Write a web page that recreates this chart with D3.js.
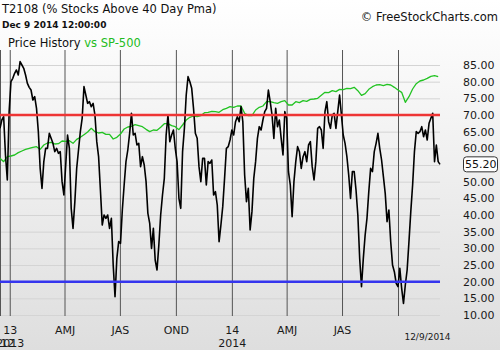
<!DOCTYPE html>
<html><head><meta charset="utf-8">
<script src="https://cdn.jsdelivr.net/npm/d3@7"></script>
<style>
html,body{margin:0;padding:0;overflow:hidden;background:#fff;}
svg{display:block;font-family:"DejaVu Sans",Verdana,sans-serif;}
</style>
</head><body><svg id="c" width="500" height="350"></svg>
<script>
// ---------- data ----------
const titleText = "T2108 (% Stocks Above 40 Day Pma)";
const stampText = "Dec 9 2014 12:00:00";
const legendMain = "Price History ";
const legendComp = "vs SP-500";
const copyright = "\u00A9 FreeStockCharts.com";
const startDate = new Date(2012, 11, 16);
const endDate = new Date(2014, 11, 9);
const endLabel = "12/9/2014";

const t2108StepDays = 3;
const t2108 = [
66,68.5,69.5,58,50.5,71,80,81,82.5,83.5,
82,86,85,84,82,79.5,78.3,77.5,74.5,75.5,
72,65,54,48,56,60,60,64.5,63,61.5,
59,60,58.5,59,50,46,55,64,60,42,
36,44,54,59.5,65,69,78.5,76,73.5,74,
72.5,73.5,70,62,57.5,47.5,37,40,39,40,
36,39,25,15.5,27,32,31.5,41.5,49,56,
59.5,64.5,70.5,64,64.5,61,61.5,54.5,57.5,55,
50,40.5,37.5,30,36,26.5,23.5,31,40,46,
51,64,70,62,64,65.5,60,56,45,42,
59,66,76,81.5,80,78,72,64.5,63,54.5,
50,57,57,49,56,55.5,56.5,46,47,43,
32,37,42.5,51,60,60.5,62.5,65.5,64,68,
69.5,68,72.5,68,52,44,48,35.5,41,51,
56,63,66.5,65.5,68.5,71,72,77.5,74,70,
63,72,66.5,68.5,63,58,71,69,53,49,
39.5,50,56,60.5,59,54,57.5,59,56,61,
62,54.5,50.5,56,66,66.5,65.5,60,71,74,
68,66,70,70.5,66,71,76,70,64,61.5,
57.5,52,45,53,53,47.5,40,27,18.5,27,
34,39,47,54,53,59,61.5,64.5,60,56.5,
51.5,46.5,38,41.5,32,25,23,19.5,18.5,24,
18,13.5,19,23.5,32,41,49,59,65,64.5,
65,66.5,63.5,65.5,62.5,67.5,69,70.5,56,61,
56,55.2
];

// SP-500 comparison line, expressed in the chart's own axis units
const sp500StepDays = 6;
const sp500 = [
57,56,57.5,57.7,58,58.7,59.2,59.7,60,60.3,
60.5,59.7,61,61.6,61.8,61.3,61.4,62.2,62.1,62.3,
61.5,62.7,63.3,64.1,64.9,66,65,64.6,64.8,64.2,
64.2,62.8,63.3,64.3,65.8,66.4,66.6,67.1,66.8,66.5,
65.7,65,65.5,65.4,66.3,67.4,67.4,66.8,66.5,65.6,
67,68.5,69.3,69.7,69.5,69.8,70.7,70.8,71.1,71,
70.8,71.6,72,72.5,72.3,72.7,72.7,70.5,69.8,69.8,
71.5,72.3,72.7,74,74,73.7,73.5,74,74.3,73,
73,74,73.7,74.3,74.1,74.7,74.8,75,75.9,76.8,
76.7,77.3,77,77.7,77.6,78,77.9,78.3,77.3,75.9,
76.4,77.7,78.5,79,79.1,78.8,79.2,79,78.3,77.5,
76.8,73.8,75.5,77.8,79.4,80.2,80.5,81,81.6,81.8,
81.5
];

const yTicks = [10,15,20,25,30,35,40,45,50,55,60,65,70,75,80,85];
const upperLevel = 70;
const lowerLevel = 20;
const lastValue = 55.20;

const quarterDates = ["2013-01-01","2013-04-01","2013-07-01","2013-10-01","2014-01-01","2014-04-01","2014-07-01","2014-10-01"];
const quarterLabels = ["13","AMJ","JAS","OND","14","AMJ","JAS",""];
const yearDates = ["2012-12-16","2013-01-01","2014-01-01"];
const yearLabels = ["2012","2013","2014"];

// ---------- drawing ----------
const parse = d3.timeParse("%Y-%m-%d");
const svg = d3.select("#c");
const W = 500, H = 350;
const plot = {left: 0, right: 440, top: 50, bottom: 316};

const defs = svg.append("defs");
const grad = defs.append("linearGradient").attr("id","bg").attr("x1",0).attr("y1",0).attr("x2",0).attr("y2",1);
grad.append("stop").attr("offset","0%").attr("stop-color","#ffffff");
grad.append("stop").attr("offset","100%").attr("stop-color","#dedede");
svg.append("rect").attr("width",W).attr("height",H).attr("fill","url(#bg)");

const x = d3.scaleTime().domain([startDate, endDate]).range([plot.left, plot.right]);
const y = d3.scaleLinear().domain([10, 85]).range([315, 65]);

// horizontal grid
svg.append("g")
  .call(d3.axisRight(y).tickValues(yTicks).tickSize(plot.right).tickFormat(""))
  .call(g => g.select(".domain").remove())
  .call(g => g.selectAll("line").attr("stroke","#d4d4d4"));

// vertical grid
svg.append("g").attr("transform",`translate(0,${plot.bottom})`)
  .call(d3.axisBottom(x).tickValues(quarterDates.map(parse)).tickSize(-(plot.bottom-plot.top)).tickFormat(""))
  .call(g => g.select(".domain").remove())
  .call(g => g.selectAll("line").attr("stroke","#555").attr("stroke-width",1));
svg.append("line").attr("x1",0.5).attr("x2",0.5).attr("y1",plot.top).attr("y2",plot.bottom).attr("stroke","#555");

// series
const dateAt = (step) => (d,i) => d3.timeDay.offset(startDate, i*step);
const spLine = d3.line().x((d,i)=>x(dateAt(sp500StepDays)(d,i))).y(d=>y(d));
const tLine = d3.line().x((d,i)=>x(dateAt(t2108StepDays)(d,i))).y(d=>y(d));

svg.append("path").datum(sp500).attr("d",spLine).attr("fill","none")
  .attr("stroke","#22c322").attr("stroke-width",1.3).attr("stroke-linejoin","round");
svg.append("path").datum(t2108).attr("d",tLine).attr("fill","none")
  .attr("stroke","#000").attr("stroke-width",1.6).attr("stroke-linejoin","round");

// reference levels
[[upperLevel,"#ee3535"],[lowerLevel,"#3535ee"]].forEach(([v,c]) => {
  svg.append("line").attr("x1",plot.left).attr("x2",plot.right)
    .attr("y1",y(v)).attr("y2",y(v)).attr("stroke",c).attr("stroke-width",2.5);
});

// y axis labels (the tick hidden by the last-value box is skipped)
const labelTicks = yTicks.filter(v => Math.abs(y(v) - y(lastValue)) > 9);
svg.append("g").attr("transform","translate(463,0)")
  .call(d3.axisRight(y).tickValues(labelTicks).tickSize(0).tickPadding(0).tickFormat(d3.format(".2f")))
  .call(g => g.select(".domain").remove())
  .call(g => g.selectAll("text").attr("font-size",11).attr("fill","#1a1a1a").attr("font-family","DejaVu Sans, Verdana, sans-serif"));

// last value box
const lv = svg.append("g").attr("transform",`translate(0,${y(lastValue)})`);
lv.append("rect").attr("x",463.5).attr("y",-7.5).attr("width",34).attr("height",15).attr("rx",3)
  .attr("fill","#fff").attr("stroke","#333");
lv.append("text").attr("x",465).attr("y",4).attr("font-size",11).attr("fill","#111").text(d3.format(".2f")(lastValue));

// x axis labels
svg.append("g").attr("transform","translate(0,326)")
  .call(d3.axisBottom(x).tickValues(quarterDates.map(parse)).tickSize(0).tickPadding(0).tickFormat((d,i)=>quarterLabels[i]))
  .call(g => g.select(".domain").remove())
  .call(g => g.selectAll("text").attr("font-size",11).attr("fill","#1a1a1a").attr("font-family","DejaVu Sans, Verdana, sans-serif"));
svg.append("g").attr("transform","translate(0,339)")
  .call(d3.axisBottom(x).tickValues(yearDates.map(parse)).tickSize(0).tickPadding(0).tickFormat((d,i)=>yearLabels[i]))
  .call(g => g.select(".domain").remove())
  .call(g => g.selectAll("text").attr("font-size",11).attr("fill","#1a1a1a").attr("font-family","DejaVu Sans, Verdana, sans-serif"));
svg.append("text").attr("x",x(endDate)-12.5).attr("y",340).attr("text-anchor","middle")
  .attr("font-size",9).attr("fill","#1a1a1a").text(endLabel);

// header texts
svg.append("text").attr("x",2).attr("y",13).attr("font-size",11.5).attr("fill","#111").text(titleText);
svg.append("text").attr("x",2).attr("y",28).attr("font-size",9).attr("font-weight","bold").attr("fill","#111").text(stampText);
const lg = svg.append("text").attr("x",8).attr("y",47).attr("font-size",11.5);
lg.append("tspan").attr("fill","#111").text(legendMain);
lg.append("tspan").attr("fill","#22bb22").text(legendComp);
svg.append("text").attr("x",498).attr("y",21).attr("text-anchor","end").attr("font-size",11.5).attr("fill","#111").text(copyright);
</script>
</body></html>
